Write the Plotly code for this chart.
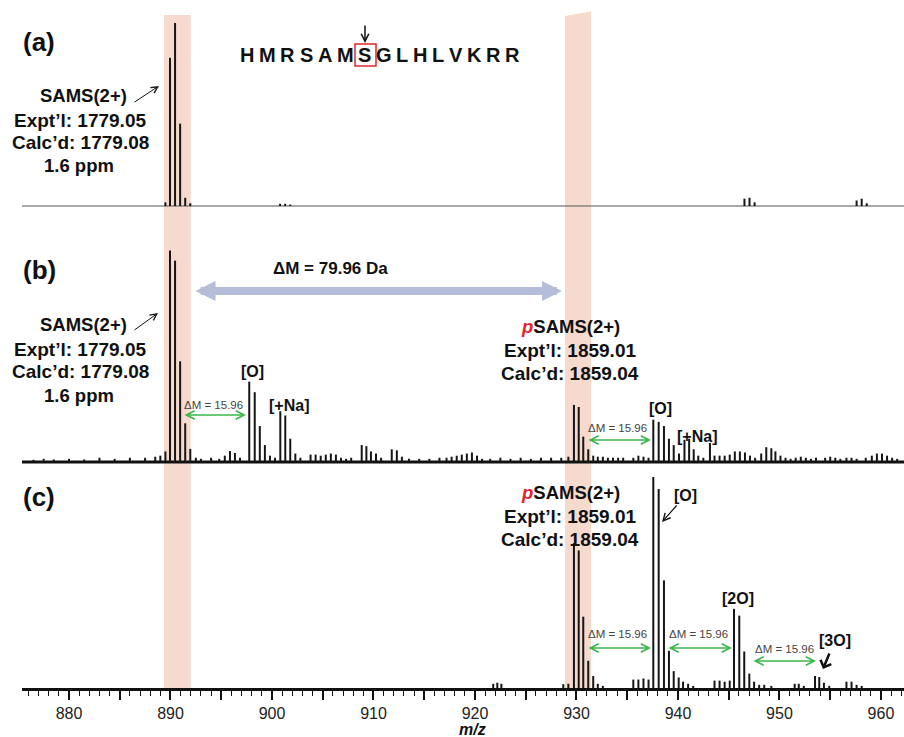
import plotly.graph_objects as go

# ---------------- data ----------------
X_RANGE = [875.37, 962.27]
TICK_LABELS = [880, 890, 900, 910, 920, 930, 940, 950, 960]

# panel (a): SAMS only
mz_a = [889.5, 889.95, 890.45, 890.95, 891.45, 891.95,
        900.8, 901.3, 901.8,
        946.55, 947.05, 947.55,
        957.6, 958.1, 958.6]
int_a = [0.02, 0.81, 1.0, 0.45, 0.045, 0.015,
         0.012, 0.012, 0.008,
         0.04, 0.045, 0.02,
         0.03, 0.04, 0.015]

# panel (b): SAMS + pSAMS
mz_b = [876.5, 877.5, 878.5, 880.0, 881.5, 883.0, 884.5, 886.0, 887.5, 888.5, 889.0, 889.5,
        889.95, 890.45, 890.95, 891.45, 891.95,
        892.5, 893.0, 894.0, 894.8, 895.35, 895.86, 896.35, 896.85,
        897.76, 898.3, 898.8, 899.3, 899.8,
        900.3, 900.82, 901.31, 901.8, 902.3, 902.8,
        903.8, 904.3, 904.8, 905.3, 905.8, 906.3, 906.8, 907.3, 907.8,
        908.84, 909.3, 909.75, 910.25, 910.75,
        911.8, 912.3, 912.8, 913.5, 914.5, 915.5, 916.5,
        917.2, 917.7, 918.2, 918.7, 919.2, 919.7, 920.2, 920.7, 921.5, 922.5, 923.5, 924.5,
        925.5, 926.5, 927.5, 928.5, 929.2,
        929.75, 930.22, 930.67, 931.16, 931.65,
        932.1, 932.6, 933.1, 933.6, 934.1, 934.6, 935.6, 936.1, 936.6, 937.1,
        937.57, 938.1, 938.62, 939.11, 939.58, 940.1,
        940.64, 941.1, 941.55, 942.0, 942.5, 943.15, 943.6,
        944.1, 944.6, 945.1, 945.6, 946.1, 946.6, 947.1, 947.6,
        948.2, 948.7, 949.2, 949.6, 950.1, 950.6, 951.1, 951.6, 952.1, 952.6, 953.1, 953.6,
        954.5, 955.0, 955.5, 956.0, 956.6, 957.1, 957.6, 958.5, 959.1, 959.6, 960.1, 960.6,
        961.1, 961.6]
int_b = [0.01, 0.015, 0.012, 0.015, 0.012, 0.02, 0.015, 0.02, 0.02, 0.025, 0.03, 0.05,
         1.0, 0.952, 0.476, 0.183, 0.062,
         0.02, 0.015, 0.02, 0.015, 0.03, 0.052, 0.043, 0.02,
         0.38, 0.33, 0.17, 0.08, 0.03,
         0.02, 0.24, 0.22, 0.11, 0.04, 0.02,
         0.035, 0.035, 0.03, 0.035, 0.04, 0.035, 0.02, 0.015, 0.02,
         0.08, 0.075, 0.05, 0.04, 0.02,
         0.06, 0.055, 0.025, 0.015, 0.015, 0.015, 0.02,
         0.02, 0.025, 0.03, 0.035, 0.04, 0.045, 0.03, 0.015, 0.015, 0.02, 0.015, 0.02,
         0.015, 0.02, 0.02, 0.02, 0.025,
         0.27, 0.26, 0.12, 0.06, 0.03,
         0.025, 0.025, 0.02, 0.02, 0.02, 0.02, 0.02, 0.03, 0.025, 0.02,
         0.2, 0.19, 0.17, 0.11, 0.08, 0.04,
         0.105, 0.11, 0.06, 0.03, 0.02, 0.09, 0.03,
         0.03, 0.03, 0.035, 0.05, 0.05, 0.045, 0.03, 0.02,
         0.04, 0.07, 0.065, 0.05, 0.03, 0.02, 0.015, 0.02, 0.025, 0.02, 0.015, 0.02,
         0.02, 0.025, 0.02, 0.015, 0.02, 0.02, 0.015, 0.02, 0.03, 0.04, 0.04, 0.03,
         0.02, 0.015]

# panel (c): pSAMS + oxidation products
mz_c = [921.8, 922.2, 922.6,
        928.7, 929.2, 929.75, 930.22, 930.67, 931.16, 931.65, 932.1, 932.6,
        935.6, 936.1, 936.6, 937.1,
        937.57, 938.1, 938.62, 939.11, 939.58, 940.07, 940.5, 941.0, 941.5,
        943.6, 944.1, 944.6, 945.1,
        945.52, 946.04, 946.53, 947.03, 947.5, 948.0, 948.5, 949.2,
        951.5, 951.9, 952.4,
        953.5, 953.92, 954.38, 954.9,
        956.6, 957.1, 957.6, 958.1]
int_c = [0.02, 0.025, 0.02,
         0.018, 0.02, 0.687, 0.652, 0.338, 0.129, 0.057, 0.02, 0.01,
         0.04, 0.04, 0.045, 0.04,
         1.0, 0.943, 0.51, 0.176, 0.08, 0.05, 0.03, 0.02, 0.01,
         0.035, 0.035, 0.03, 0.035,
         0.375, 0.343, 0.173, 0.068, 0.03, 0.015, 0.015, 0.01,
         0.02, 0.02, 0.01,
         0.057, 0.052, 0.025, 0.01,
         0.03, 0.03, 0.015, 0.01]

PEPTIDE = "HMRSAMSGLHLVKRR"
BAND_1 = [889.36, 891.99]
BAND_2 = [928.87, 931.43]

# ---------------- layout helpers ----------------
W, H = 904, 737
ML, MR, MT, MB = 22, 0, 17, 49
PW, PH = W - ML - MR, H - MT - MB
FONT = "Liberation Sans, Arial, sans-serif"


def px(x):
    return (x - ML) / PW


def py(y):
    return (H - MB - y) / PH


def sticks(mz, ints):
    xs, ys = [], []
    for m, v in zip(mz, ints):
        xs += [m, m, None]
        ys += [0, v, None]
    return xs, ys


fig = go.Figure()

# panel geometry: (baseline px, px per unit, top px, bottom px)
panels = [
    ("x", "y", mz_a, int_a, 206, 183.0, 17, 210),
    ("x2", "y2", mz_b, int_b, 462, 211.5, 244, 466),
    ("x3", "y3", mz_c, int_c, 688, 211.0, 470, 688),
]

for i, (xa, ya, mz, it, base, unit, top, bot) in enumerate(panels):
    if i < 2:
        fig.add_trace(go.Scatter(x=X_RANGE, y=[0, 0], mode="lines", xaxis=xa, yaxis=ya,
                                 line=dict(color="#555" if i == 0 else "#111", width=1.2 if i == 0 else 3),
                                 hoverinfo="skip", showlegend=False))
    xs, ys = sticks(mz, it)
    fig.add_trace(go.Scatter(x=xs, y=ys, mode="lines", xaxis=xa, yaxis=ya,
                             line=dict(color="#151515", width=2),
                             hoverinfo="skip", showlegend=False))
    suffix = "" if i == 0 else str(i + 1)
    fig.layout["yaxis" + suffix] = dict(domain=[py(bot), py(top)],
                                        range=[-(bot - base) / unit, (base - top) / unit],
                                        visible=False, fixedrange=True)
    xax = dict(range=X_RANGE, anchor=ya, domain=[0, 1], showgrid=False, zeroline=False)
    if i < 2:
        xax.update(visible=False)
    else:
        xax.update(showline=True, linecolor="#111", linewidth=2.5,
                   ticks="outside", ticklen=9, tickwidth=1.5, tickcolor="#111",
                   tickvals=list(range(880, 961, 5)),
                   ticktext=[str(v) if v in TICK_LABELS else "" for v in range(880, 961, 5)],
                   tickfont=dict(family=FONT, size=16, color="#222"),
                   minor=dict(ticks="outside", dtick=1, tick0=875, ticklen=5, tickwidth=1.3, tickcolor="#111"))
    fig.layout["xaxis" + suffix] = xax

# pink highlight bands
BAND_COLOR = "#f6dace"
fig.add_shape(type="rect", xref="x3", yref="paper", x0=BAND_1[0], x1=BAND_1[1], y0=py(688), y1=py(15),
              fillcolor=BAND_COLOR, line_width=0, layer="below")
fig.add_shape(type="path", xref="x3", yref="paper",
              path=f"M {BAND_2[0]},{py(688)} L {BAND_2[1]},{py(688)} L {BAND_2[1]},{py(11.5)} L {BAND_2[0]},{py(16)} Z",
              fillcolor=BAND_COLOR, line_width=0, layer="below")


def txt(x, y, s, size, bold=True, color="#111", xanchor="center"):
    fig.add_annotation(x=px(x), y=py(y), xref="paper", yref="paper",
                       text=f"<b>{s}</b>" if bold else s, showarrow=False,
                       font=dict(family=FONT, size=size, color=color),
                       xanchor=xanchor, yanchor="middle")


def arrow(x0, y0, x1, y1, color="#111", width=1.0, head=5, size=1.0, both=False):
    fig.add_annotation(x=px(x1), y=py(y1), xref="paper", yref="paper",
                       ax=x0 - x1, ay=y0 - y1, axref="pixel", ayref="pixel",
                       text="", showarrow=True, arrowhead=head, startarrowhead=head,
                       arrowside="end+start" if both else "end",
                       arrowwidth=width, arrowsize=size, startarrowsize=size, arrowcolor=color)


# panel labels
txt(39, 42, "(a)", 26)
txt(39, 270, "(b)", 26)
txt(39, 497, "(c)", 26)

# peptide sequence with tracked letters
ARIAL_B = {"H": .722, "M": .833, "R": .722, "S": .667, "A": .722, "G": .778,
           "L": .611, "V": .667, "K": .722}
fs = 20
total = sum(ARIAL_B[c] for c in PEPTIDE) * fs
track = (280 - total) / (len(PEPTIDE) - 1)
cx = 240
for c in PEPTIDE:
    w = ARIAL_B[c] * fs
    txt(cx + w / 2, 55, c, fs)
    cx += w + track
fig.add_shape(type="rect", xref="paper", yref="paper", x0=px(355), x1=px(376), y0=py(66), y1=py(44),
              line=dict(color="#e0262b", width=1.5), fillcolor="rgba(0,0,0,0)")
arrow(365, 24, 365, 43, width=1.5, head=5, size=1.0)

# SAMS labels
for y0 in (96, 325):
    txt(83, y0, "SAMS(2+)", 18.5)
    txt(80, y0 + 24, "Expt’l: 1779.05", 19)
    txt(80, y0 + 47, "Calc’d: 1779.08", 19)
    txt(79, y0 + 70, "1.6 ppm", 18.5)
arrow(133, 103, 159, 86, width=1.0, head=5, size=1.3)
arrow(133, 331, 158, 313, width=1.0, head=5, size=1.3)

# ΔM = 79.96 Da
txt(330, 268, "ΔM = 79.96 Da", 17)
arrow(194, 291, 562, 291, color="#b5bdd8", width=8, head=2, size=0.5, both=True)

# pSAMS labels
P = "<i><span style='color:#e8242a'>p</span></i>SAMS(2+)"
for y0 in (326, 492):
    txt(570, y0, P, 18.5)
    txt(570, y0 + 24, "Expt’l: 1859.01", 19)
    txt(570, y0 + 47, "Calc’d: 1859.04", 19)

GREEN = "#3cb54a"
# panel b annotations
txt(252, 372, "[O]", 16)
txt(289, 405, "[+Na]", 16)
txt(213, 405, "ΔM = 15.96", 11.5, bold=False, color="#444")
arrow(183, 415, 246, 415, color=GREEN, width=1.5, head=5, size=1.1, both=True)
txt(660, 408, "[O]", 16)
txt(697, 436, "[+Na]", 16)
txt(617, 428, "ΔM = 15.96", 11.5, bold=False, color="#444")
arrow(587, 440, 651, 440, color=GREEN, width=1.5, head=5, size=1.1, both=True)

# panel c annotations
txt(685, 495, "[O]", 16)
arrow(678, 504, 662, 522, width=1.2, head=5, size=1.2)
txt(738, 598, "[2O]", 16)
txt(835, 640, "[3O]", 16)
arrow(830, 652, 823, 669, width=2.5, head=4, size=0.9)
txt(617, 634, "ΔM = 15.96", 11.5, bold=False, color="#444")
arrow(587, 648, 651, 648, color=GREEN, width=1.5, head=5, size=1.1, both=True)
txt(698, 634, "ΔM = 15.96", 11.5, bold=False, color="#444")
arrow(667, 648, 732, 648, color=GREEN, width=1.5, head=5, size=1.1, both=True)
txt(784, 649, "ΔM = 15.96", 11.5, bold=False, color="#444")
arrow(752, 661, 816, 661, color=GREEN, width=1.5, head=5, size=1.1, both=True)

# x-axis title
txt(472, 729, "<i>m/z</i>", 16)

fig.update_layout(width=W, height=H, margin=dict(l=ML, r=MR, t=MT, b=MB),
                  paper_bgcolor="white", plot_bgcolor="rgba(0,0,0,0)",
                  showlegend=False, font=dict(family=FONT))

fig.write_html("out.html", config={"displayModeBar": False},
               post_script="document.body.style.margin='0';document.body.style.overflow='hidden';")
